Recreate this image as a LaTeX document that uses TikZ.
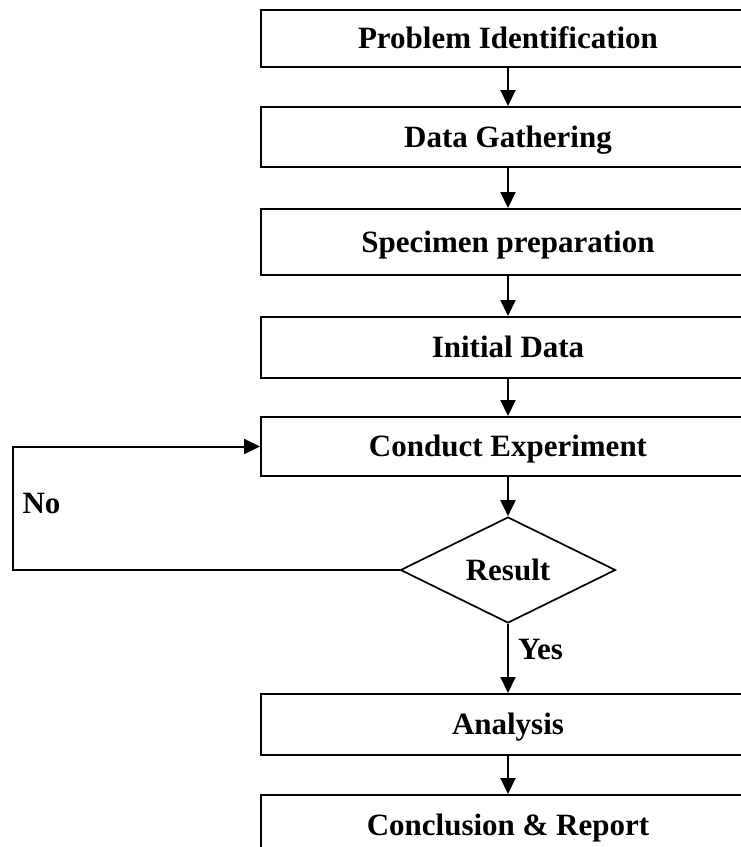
\documentclass[tikz,border=0pt]{standalone}
\usepackage{fontspec}
\setmainfont{Liberation Serif}
\usetikzlibrary{shapes.geometric,arrows.meta}
\begin{document}
\begin{tikzpicture}[x=1pt,y=-1pt,
  lbl/.style={font=\fontsize{31}{36}\selectfont\bfseries,inner sep=0pt,text height=20pt,text depth=0pt},
  box/.style={lbl,draw,rectangle,line width=2pt,minimum width=494pt},
  dia/.style={lbl,draw,diamond,aspect=2,line width=1.7pt,minimum width=215pt,minimum height=106pt},
  arr/.style={line width=2pt,-{Triangle[length=16pt,width=15pt]}},
  conn/.style={line width=2pt}
]
\useasboundingbox (0,0) rectangle (741,847);
\clip (0,0) rectangle (741,847);
\node[box,minimum height=57pt] (b1) at (508,38.5) {Problem Identification};
\node[box,minimum height=60pt] (b2) at (508,137) {Data Gathering};
\node[box,minimum height=66pt] (b3) at (508,242) {Specimen preparation};
\node[box,minimum height=61pt] (b4) at (508,347.5) {Initial Data};
\node[box,minimum height=59pt] (b5) at (508,446.5) {Conduct Experiment};
\node[dia] (dec) at (508,570) {Result};
\node[box,minimum height=61pt] (b6) at (508,724.5) {Analysis};
\node[box,minimum height=60pt] (b7) at (508,825) {Conclusion \& Report};
\node[lbl] (no) at (41.5,503.5) {No};
\node[lbl] (yes) at (540.5,649) {Yes};
\coordinate (lb) at (13,570);
\coordinate (lt) at (13,446.5);
\draw[arr] (b1) -- (b2);
\draw[arr] (b2) -- (b3);
\draw[arr] (b3) -- (b4);
\draw[arr] (b4) -- (b5);
\draw[arr] (b5) -- (dec);
\draw[arr] (dec) -- (b6);
\draw[arr] (b6) -- (b7);
\draw[arr] (dec.west) -- (lb) -- (lt) -- (b5.west);
\end{tikzpicture}
\end{document}
